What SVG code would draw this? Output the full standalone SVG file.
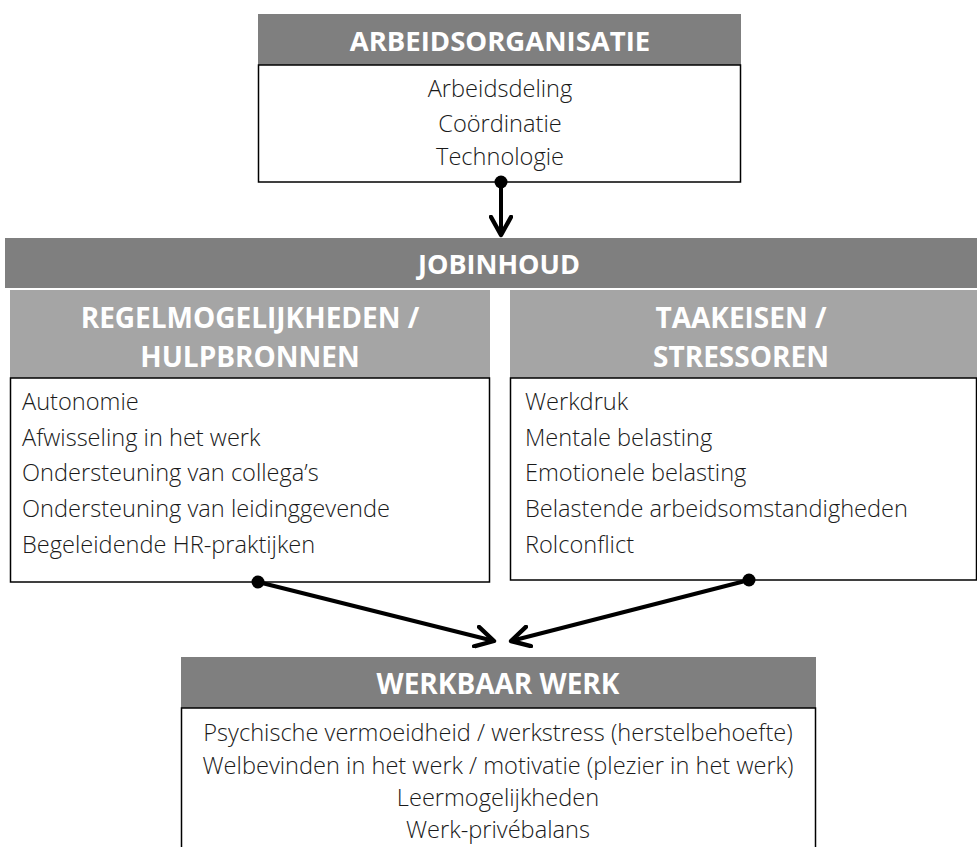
<svg xmlns="http://www.w3.org/2000/svg" width="977" height="847" viewBox="0 0 977 847">
<defs>
<style>
.hd{fill:#7f7f7f}
.sh{fill:#a5a5a5}
.bx{fill:#fff;stroke:#000;stroke-width:1.5}
.ht{font-family:"Open Sans","Liberation Sans",sans-serif;font-weight:bold;fill:#fff;text-anchor:middle}
.bt{font-family:"Open Sans","Liberation Sans",sans-serif;font-weight:300;font-size:23.6px;fill:#1a1a1a}
.c{text-anchor:middle}
.ln{stroke:#000;stroke-width:4;fill:none}
</style>
<marker id="ah" viewBox="0 0 12 12" refX="10" refY="6" markerWidth="6" markerHeight="6" orient="auto" markerUnits="strokeWidth">
<path d="M1,1 L10,6 L1,11" fill="none" stroke="#000" stroke-width="2.2" stroke-linecap="round" stroke-linejoin="round"/>
</marker>
</defs>
<g id="arbeidsorganisatie">
<rect class="hd" x="258" y="14" width="483" height="51"/>
<rect class="bx" x="258.5" y="65" width="482" height="117"/>
<text class="ht" x="500" y="51" font-size="27.5">ARBEIDSORGANISATIE</text>
<text class="bt c" x="500" y="97">Arbeidsdeling</text>
<text class="bt c" x="500" y="132">Coördinatie</text>
<text class="bt c" x="500" y="165">Technologie</text>
</g>
<g id="jobinhoud">
<rect class="hd" x="5" y="238" width="972" height="50"/>
<text class="ht" x="499" y="274" font-size="27">JOBINHOUD</text>
</g>
<g id="regelmogelijkheden">
<rect class="sh" x="10" y="290" width="480" height="88"/>
<rect class="bx" x="10.5" y="378" width="479" height="204"/>
<text class="ht" x="250" y="328" font-size="28">REGELMOGELIJKHEDEN /</text>
<text class="ht" x="250" y="367" font-size="28">HULPBRONNEN</text>
<text class="bt" x="22" y="410">Autonomie</text>
<text class="bt" x="22" y="446">Afwisseling in het werk</text>
<text class="bt" x="22" y="481">Ondersteuning van collega’s</text>
<text class="bt" x="22" y="517">Ondersteuning van leidinggevende</text>
<text class="bt" x="22" y="553">Begeleidende HR-praktijken</text>
</g>
<g id="taakeisen">
<rect class="sh" x="510" y="290" width="467" height="88"/>
<rect class="bx" x="510.5" y="378" width="466" height="202"/>
<text class="ht" x="741" y="328" font-size="28">TAAKEISEN /</text>
<text class="ht" x="741" y="367" font-size="28">STRESSOREN</text>
<text class="bt" x="525" y="410">Werkdruk</text>
<text class="bt" x="525" y="446">Mentale belasting</text>
<text class="bt" x="525" y="481">Emotionele belasting</text>
<text class="bt" x="525" y="517">Belastende arbeidsomstandigheden</text>
<text class="bt" x="525" y="553">Rolconflict</text>
</g>
<g id="werkbaar-werk">
<rect class="hd" x="181" y="657" width="635" height="51"/>
<rect class="bx" x="181.5" y="708" width="634" height="145"/>
<text class="ht" x="498" y="694" font-size="28">WERKBAAR WERK</text>
<text class="bt c" x="498" y="741">Psychische vermoeidheid / werkstress (herstelbehoefte)</text>
<text class="bt c" x="498" y="774">Welbevinden in het werk / motivatie (plezier in het werk)</text>
<text class="bt c" x="498" y="806">Leermogelijkheden</text>
<text class="bt c" x="498" y="838">Werk-privébalans</text>
</g>
<g id="connectors">
<circle cx="501" cy="182" r="6.5"/>
<line class="ln" x1="501" y1="182" x2="501" y2="235" marker-end="url(#ah)"/>
<circle cx="258" cy="582" r="6.5"/>
<line class="ln" x1="258" y1="582" x2="494" y2="641" marker-end="url(#ah)"/>
<circle cx="749" cy="580" r="6.5"/>
<line class="ln" x1="749" y1="580" x2="511" y2="641" marker-end="url(#ah)"/>
</g>
</svg>
